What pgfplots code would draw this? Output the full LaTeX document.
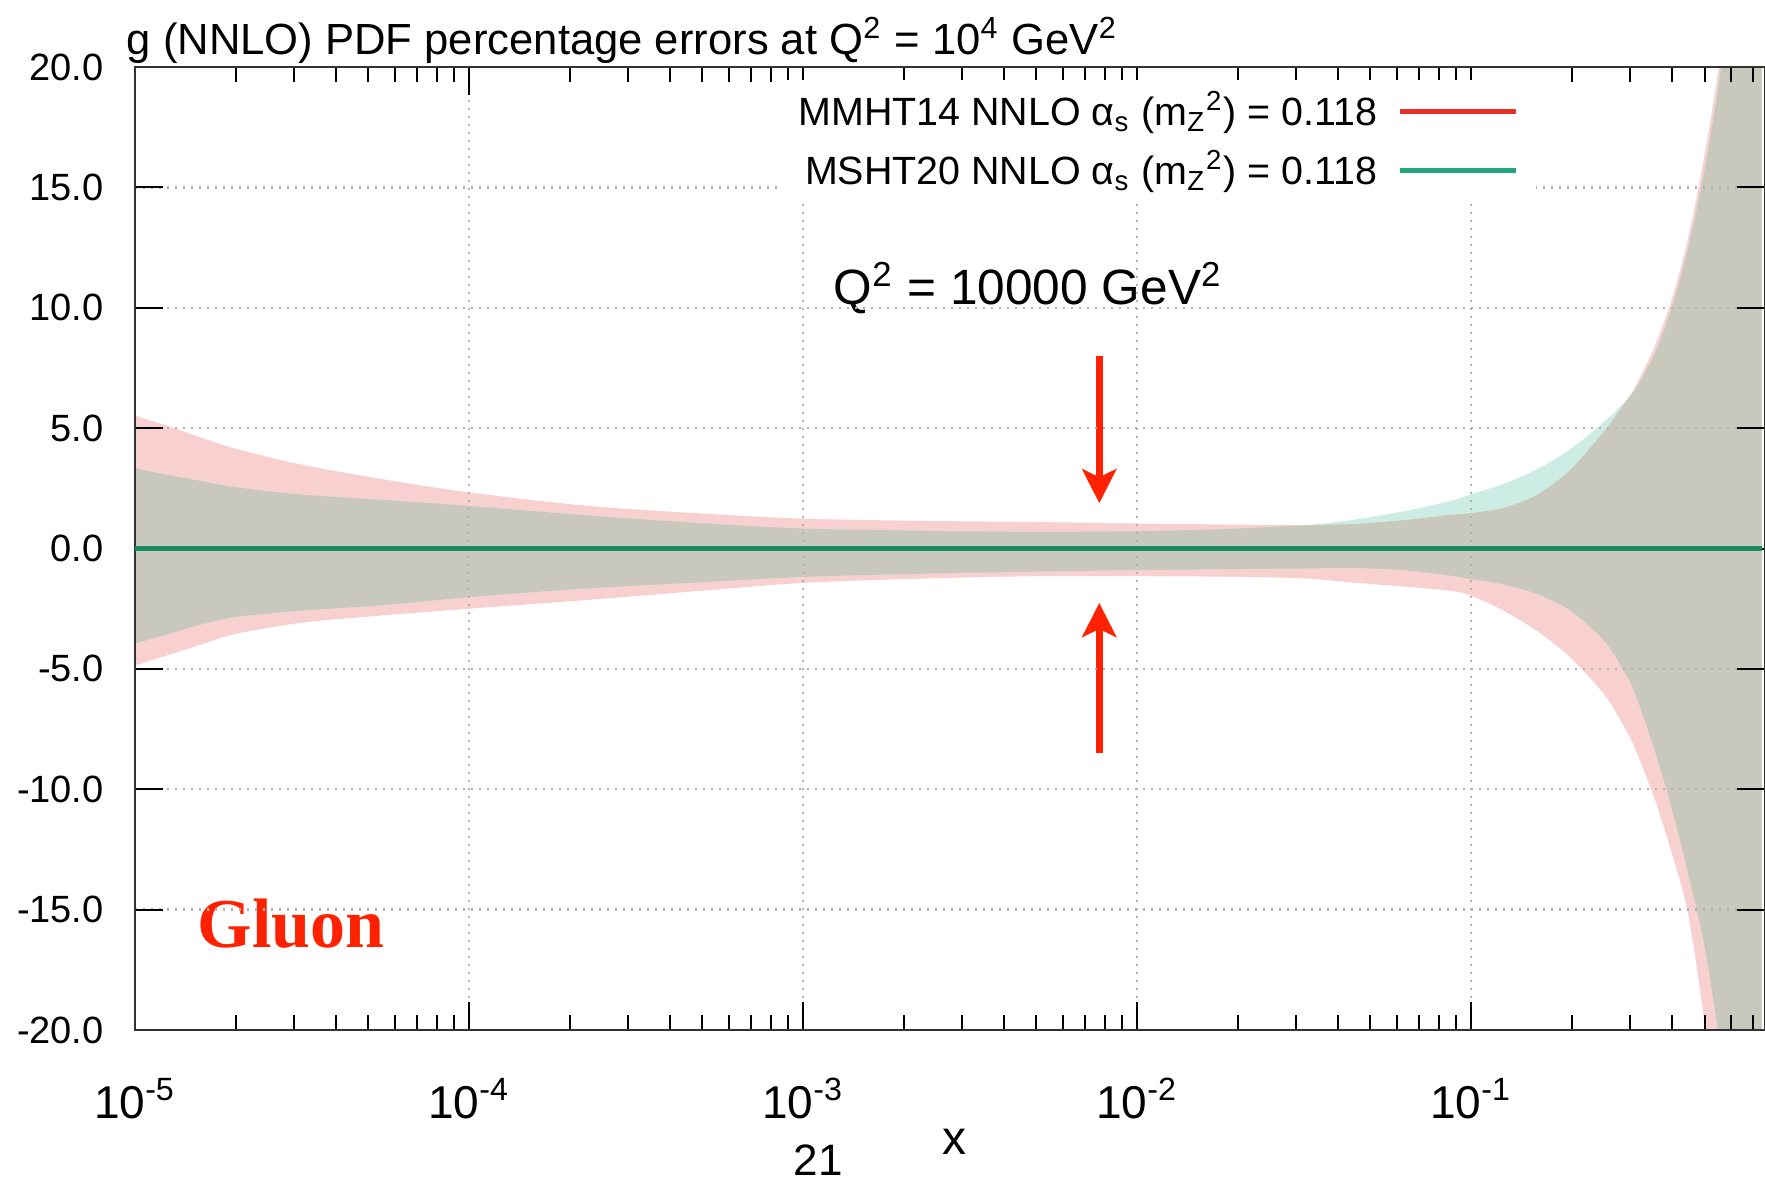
\documentclass[border=0pt]{standalone}
\usepackage{fontspec}
\setmainfont{Liberation Sans}
\newfontfamily\serifbf{Liberation Serif}
\usepackage{pgfplots}
\pgfplotsset{compat=1.18}
\usepackage{pgfplotstable}
\usepgfplotslibrary{fillbetween}
\usetikzlibrary{arrows.meta}

\definecolor{mmhtfill}{RGB}{248,208,207}
\definecolor{mshtfill}{RGB}{205,236,227}
\definecolor{ovfill}{RGB}{200,200,189}
\definecolor{mmhtline}{RGB}{232,48,40}
\definecolor{mshtline}{RGB}{32,165,125}
\definecolor{mshtcen}{RGB}{24,138,98}
\definecolor{annot}{RGB}{255,34,0}

% MMHT14 band (upper, lower)
\pgfplotstableread{
x u l
1e-5 5.52 -4.86
1.259e-5 5.08 -4.42
1.585e-5 4.60 -3.98
1.995e-5 4.15 -3.55
3.162e-5 3.48 -3.08
5.623e-5 2.86 -2.77
1e-4 2.33 -2.50
2.239e-4 1.78 -2.14
5.012e-4 1.45 -1.75
1e-3 1.24 -1.43
2.239e-3 1.15 -1.25
5.012e-3 1.10 -1.15
1e-2 1.04 -1.15
1.778e-2 1.00 -1.17
3.162e-2 0.97 -1.24
4.467e-2 1.02 -1.42
6.310e-2 1.18 -1.58
8.710e-2 1.40 -1.76
0.1 1.47 -1.96
0.1259 1.70 -2.60
0.1585 2.25 -3.45
0.1995 3.30 -4.55
0.2512 4.90 -6.08
0.2818 5.85 -7.20
0.2992 6.33 -7.85
0.3162 6.95 -8.60
0.3548 8.40 -10.4
0.3981 10.3 -12.6
0.4467 12.9 -15.2
0.5012 16.4 -19.8
0.5623 20.8 -26.0
0.6310 27.0 -33.0
0.7413 38.0 -45.0
}\mmht

% MSHT20 band (upper, lower)
\pgfplotstableread{
x u l
1e-5 3.34 -3.95
1.259e-5 3.05 -3.55
1.585e-5 2.80 -3.15
1.995e-5 2.55 -2.85
3.162e-5 2.24 -2.58
5.623e-5 2.01 -2.35
1e-4 1.77 -2.02
2.239e-4 1.38 -1.66
5.012e-4 1.05 -1.40
1e-3 0.83 -1.18
2.239e-3 0.74 -1.05
5.012e-3 0.69 -0.96
1e-2 0.72 -0.90
1.778e-2 0.80 -0.86
3.162e-2 0.96 -0.83
4.467e-2 1.20 -0.81
6.310e-2 1.55 -0.90
8.710e-2 1.98 -1.13
0.1 2.25 -1.27
0.1259 2.70 -1.50
0.1585 3.31 -1.90
0.1995 4.15 -2.60
0.2512 5.28 -3.85
0.2818 5.95 -4.90
0.2992 6.33 -5.55
0.3162 6.80 -6.35
0.3548 8.10 -8.40
0.3981 9.95 -10.75
0.4467 12.5 -13.5
0.5012 15.8 -16.6
0.5623 20.1 -21.2
0.6310 26.0 -28.0
0.7413 37.0 -42.0
}\msht

% overlap of the two bands
\pgfplotstableread{
x u l
1e-5 3.34 -3.95
1.259e-5 3.05 -3.55
1.585e-5 2.80 -3.15
1.995e-5 2.55 -2.85
3.162e-5 2.24 -2.58
5.623e-5 2.01 -2.35
1e-4 1.77 -2.02
2.239e-4 1.38 -1.66
5.012e-4 1.05 -1.40
1e-3 0.83 -1.18
2.239e-3 0.74 -1.05
5.012e-3 0.69 -0.96
1e-2 0.72 -0.90
1.778e-2 0.80 -0.86
3.162e-2 0.96 -0.83
4.467e-2 1.02 -0.81
6.310e-2 1.18 -0.90
8.710e-2 1.40 -1.13
0.1 1.47 -1.27
0.1259 1.70 -1.50
0.1585 2.25 -1.90
0.1995 3.30 -2.60
0.2512 4.90 -3.85
0.2818 5.85 -4.90
0.2992 6.33 -5.55
0.3162 6.80 -6.35
0.3548 8.10 -8.40
0.3981 9.95 -10.75
0.4467 12.5 -13.5
0.5012 15.8 -16.6
0.5623 20.1 -21.2
0.6310 26.0 -28.0
0.7413 37.0 -42.0
}\overlap

\begin{document}
\begin{tikzpicture}
\begin{axis}[
  at={(0,0)}, anchor=south west,
  scale only axis, width=407.5pt, height=240.75pt,
  xmode=log, xmin=1e-5, xmax=0.7589,
  ymin=-20, ymax=20,
  /pgf/number format/assume math mode=true,
  ytick={-20,-15,...,20},
  yticklabels={-20.0,-15.0,-10.0,-5.0,0.0,5.0,10.0,15.0,20.0},
  xtick={1e-5,1e-4,1e-3,1e-2,1e-1},
  xticklabels={{10\textsuperscript{-5}},{10\textsuperscript{-4}},{10\textsuperscript{-3}},{10\textsuperscript{-2}},{10\textsuperscript{-1}}},
  minor xtick={2e-5,3e-5,4e-5,5e-5,6e-5,7e-5,8e-5,9e-5,
               2e-4,3e-4,4e-4,5e-4,6e-4,7e-4,8e-4,9e-4,
               2e-3,3e-3,4e-3,5e-3,6e-3,7e-3,8e-3,9e-3,
               2e-2,3e-2,4e-2,5e-2,6e-2,7e-2,8e-2,9e-2,
               0.2,0.3,0.4,0.5,0.6,0.7},
  major tick length=7pt, minor tick length=3.75pt,
  tick align=inside,
  tick style={black, line width=0.5pt},
  minor tick style={black, line width=0.5pt},
  axis line style={black!80, line width=0.6pt},
  xmajorgrids, ymajorgrids,
  grid style={gray!60, line width=0.6pt, dash pattern=on 0.6pt off 1.4pt},
  set layers=axis on top,
  axis on top,
  yticklabel style={font=\fontsize{9.5}{11}\selectfont, anchor=east, xshift=-4.3pt},
  xticklabel style={font=\fontsize{11.5}{13}\selectfont, anchor=base, yshift=-22pt},
  xlabel={x},
  xlabel style={at={(axis description cs:0.503,0)}, anchor=base, yshift=-31pt, font=\fontsize{12}{14}\selectfont, inner sep=0pt},
  title={g (NNLO) PDF percentage errors at Q\textsuperscript{2} = 10\textsuperscript{4} GeV\textsuperscript{2}},
  title style={at={(0,1)}, anchor=base west, xshift=-2.25pt, yshift=-2.75pt, font=\fontsize{10.9}{13}\selectfont, inner sep=0pt},
  legend style={draw=none, fill=white, at={(0.8601,0.987)}, anchor=north east,
    font=\fontsize{9.85}{12}\selectfont, inner xsep=4.5pt, inner ysep=2.25pt,
    row sep=3.9pt, column sep=4.5pt, nodes={inner xsep=0.5pt, inner ysep=0.5pt}},
  legend cell align=right,
  legend plot pos=right,
  legend image code/.code={\draw[#1] (0pt,0pt) -- (29pt,0pt);},
]
\addlegendimage{mmhtline, line width=1.25pt}
\addlegendentry{MMHT14 NNLO α\textsubscript{s} (m\textsubscript{Z}\textsuperscript{2}) = 0.118}
\addlegendimage{mshtline, line width=1.25pt}
\addlegendentry{MSHT20 NNLO α\textsubscript{s} (m\textsubscript{Z}\textsuperscript{2}) = 0.118}

\addplot[name path=mu, draw=none, smooth, forget plot] table[x=x, y=u] {\mmht};
\addplot[name path=ml, draw=none, smooth, forget plot] table[x=x, y=l] {\mmht};
\addplot[mmhtfill, forget plot] fill between[of=mu and ml];
\addplot[name path=su, draw=none, smooth, forget plot] table[x=x, y=u] {\msht};
\addplot[name path=sl, draw=none, smooth, forget plot] table[x=x, y=l] {\msht};
\addplot[mshtfill, forget plot] fill between[of=su and sl];
\addplot[name path=ou, draw=none, smooth, forget plot] table[x=x, y=u] {\overlap};
\addplot[name path=ol, draw=none, smooth, forget plot] table[x=x, y=l] {\overlap};
\addplot[ovfill, forget plot] fill between[of=ou and ol];

\addplot[mmhtline, line width=1.2pt, forget plot, on layer=axis foreground] coordinates {(1e-5,0) (0.7413,0)};
\addplot[mshtcen, line width=1.2pt, forget plot, on layer=axis foreground] coordinates {(1e-5,0) (0.7413,0)};

\node[anchor=base, inner sep=0pt, font=\fontsize{12.4}{14}\selectfont] at (axis cs:0.00472,10.15)
  {Q\textsuperscript{2} = 10000 GeV\textsuperscript{2}};
\draw[annot, line width=1.8pt, -{Stealth[length=8.5pt, width=8.5pt, inset=2pt]}]
  (axis cs:0.00771,7.98) -- (axis cs:0.00771,1.88);
\draw[annot, line width=1.8pt, -{Stealth[length=8.5pt, width=8.5pt, inset=2pt]}]
  (axis cs:0.00771,-8.49) -- (axis cs:0.00771,-2.26);
\node[anchor=base west, inner sep=0pt, text=annot, font=\serifbf\bfseries\fontsize{17.5}{20}\selectfont]
  at (axis cs:1.535e-5,-16.56) {Gluon};
\end{axis}
\node[anchor=north, inner sep=0pt, font=\fontsize{11}{13}\selectfont] at (170.75pt,-28.6pt) {21};
\pgfresetboundingbox
\useasboundingbox (-33.75pt,-37.5pt) rectangle (407.5pt,257.5pt);
\end{tikzpicture}
\end{document}
